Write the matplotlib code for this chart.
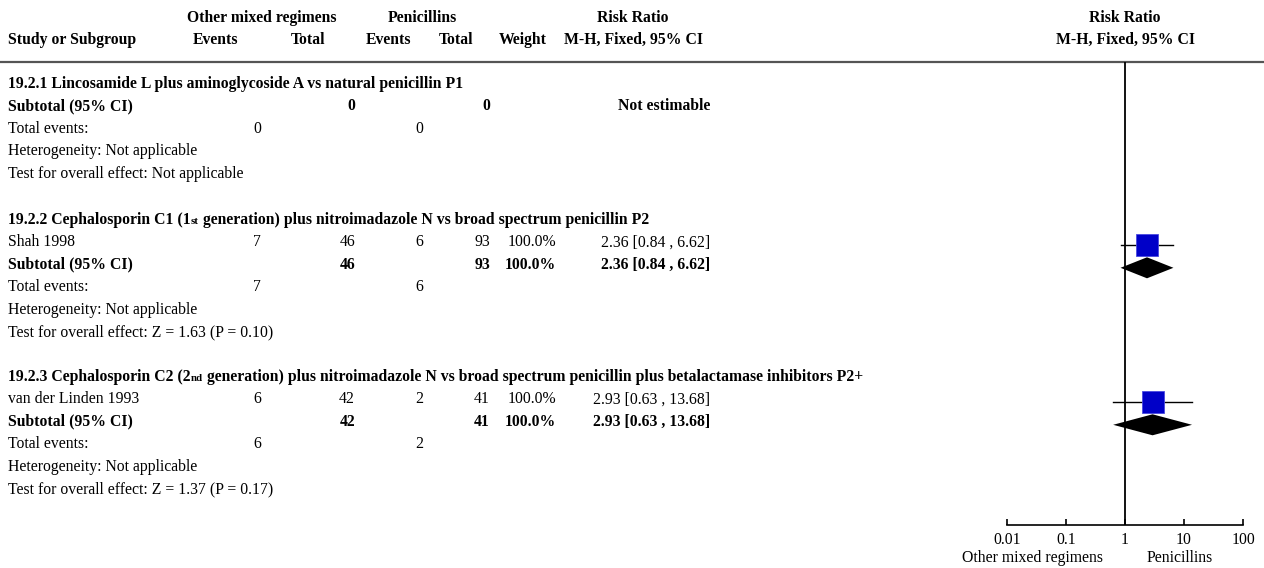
import matplotlib
matplotlib.use('Agg')
import matplotlib.pyplot as plt

plt.rcParams['font.family'] = ['Liberation Serif', 'DejaVu Serif']

# ─────────────────────────────────────────────
# Datos del forest plot
# ─────────────────────────────────────────────
titulo_pre = ["19.2.1 Lincosamide L plus aminoglycoside A vs natural penicillin P1",
              "19.2.2 Cephalosporin C1 (1",
              "19.2.3 Cephalosporin C2 (2"]
titulo_sup = ["", "st", "nd"]
titulo_post = ["",
               "generation) plus nitroimadazole N vs broad spectrum penicillin P2",
               "generation) plus nitroimadazole N vs broad spectrum penicillin plus betalactamase inhibitors P2+"]
estudios = [None, "Shah 1998", "van der Linden 1993"]
ev_otros = [0, 7, 6]
n_otros = [0, 46, 42]
ev_pen = [0, 6, 2]
n_pen = [0, 93, 41]
pesos = [None, 100.0, 100.0]
rr = [None, 2.36, 2.93]
rr_inf = [None, 0.84, 0.63]
rr_sup = [None, 6.62, 13.68]
z_val = [None, 1.63, 1.37]
p_val = [None, 0.10, 0.17]

ticks = [0.01, 0.1, 1, 10, 100]
tick_labels = ["0.01", "0.1", "1", "10", "100"]
lado_izq = "Other mixed regimens"
lado_der = "Penicillins"

# ─────────────────────────────────────────────
# Layout (pixeles)
# ─────────────────────────────────────────────
W, H = 1264, 568
FS = 11.3
x_study, x_ev1, x_n1, x_ev2, x_n2, x_w, x_ci = 8, 257, 355, 419, 490, 556, 710
y_secciones = [83, 219, 376]
paso = 22.4
y_linea, y_eje = 62, 525
x_01, x_100 = 1007, 1243

fig = plt.figure(figsize=(W / 100, H / 100), dpi=100)
ax = fig.add_axes([0, 0, 1, 1])
ax.set_xlim(0, W)
ax.set_ylim(H, 0)
ax.axis('off')

fx = fig.add_axes([x_01 / W, (H - y_eje) / H, (x_100 - x_01) / W, (y_eje - y_linea) / H])
fx.set_xscale('log')
fx.set_xlim(ticks[0], ticks[-1])
fx.set_ylim(y_eje, y_linea)
fx.patch.set_alpha(0)
for s in ['left', 'right', 'top']:
    fx.spines[s].set_visible(False)
fx.spines['bottom'].set_linewidth(1.2)
fx.set_yticks([])
fx.set_xticks(ticks)
fx.set_xticklabels(tick_labels)
fx.minorticks_off()
fx.tick_params(axis='x', direction='in', length=4, width=1.2, pad=5, labelsize=FS)
fx.axvline(1, color='black', lw=1.3)

fig.canvas.draw()
rend = fig.canvas.get_renderer()


def txt(x, y, s, ha='left', bold=False, size=FS):
    # y = centro del texto; se dibuja en la linea base
    return ax.text(x, y + 5, s, ha=ha, va='baseline', fontsize=size,
                   fontweight='bold' if bold else 'normal')


def txt_runs(x, y, partes):
    for s, size, gap in partes:
        if not s:
            continue
        t = txt(x + gap, y, s, bold=True, size=size)
        bb = t.get_window_extent(renderer=rend)
        x = ax.transData.inverted().transform((bb.x1, bb.y0))[0]


# Encabezado
bold = dict(bold=True)
txt(262, 17, "Other mixed regimens", ha='center', **bold)
txt(422, 17, "Penicillins", ha='center', **bold)
txt(633, 17, "Risk Ratio", ha='center', **bold)
txt(1125, 17, "Risk Ratio", ha='center', **bold)
txt(x_study, 39, "Study or Subgroup", **bold)
txt(215, 39, "Events", ha='center', **bold)
txt(308, 39, "Total", ha='center', **bold)
txt(388, 39, "Events", ha='center', **bold)
txt(456, 39, "Total", ha='center', **bold)
txt(523, 39, "Weight", ha='center', **bold)
txt(633, 39, "M-H, Fixed, 95% CI", ha='center', **bold)
txt(1125, 39, "M-H, Fixed, 95% CI", ha='center', **bold)
ax.axhline(y_linea, color='#555555', lw=1.6)

for k, y0 in enumerate(y_secciones):
    txt_runs(x_study, y0, [(titulo_pre[k], FS, 0), (titulo_sup[k], 7.8, 0),
                           (titulo_post[k], FS, 4.0)])
    fila = 1
    if estudios[k] is not None:
        y = y0 + paso * fila
        txt(x_study, y, estudios[k])
        txt(x_ev1, y, str(ev_otros[k]), ha='center')
        txt(x_n1, y, str(n_otros[k]), ha='right')
        txt(x_ev2, y, str(ev_pen[k]), ha='center')
        txt(x_n2, y, str(n_pen[k]), ha='right')
        txt(x_w, y, f"{pesos[k]:.1f}%", ha='right')
        txt(x_ci, y, f"{rr[k]:.2f} [{rr_inf[k]:.2f} , {rr_sup[k]:.2f}]", ha='right')
        ym = y + 4
        fx.plot([rr_inf[k], rr_sup[k]], [ym, ym], color='black', lw=1.0)
        fx.plot([rr[k]], [ym], marker='s', ms=15.5, color='#0000c8',
                mec='#4a4ae0', mew=0.6)
        fila += 1
    # Subtotal
    y = y0 + paso * fila
    txt(x_study, y, "Subtotal (95% CI)", **bold)
    txt(x_n1, y, str(n_otros[k]), ha='right', **bold)
    txt(x_n2, y, str(n_pen[k]), ha='right', **bold)
    if rr[k] is None:
        txt(x_ci, y, "Not estimable", ha='right', **bold)
    else:
        txt(x_w, y, f"{pesos[k]:.1f}%", ha='right', **bold)
        txt(x_ci, y, f"{rr[k]:.2f} [{rr_inf[k]:.2f} , {rr_sup[k]:.2f}]", ha='right', **bold)
        ym = y + 4
        fx.fill([rr_inf[k], rr[k], rr_sup[k], rr[k]], [ym, ym - 10.5, ym, ym + 10.5],
                color='black', lw=0)
    fila += 1
    y = y0 + paso * fila
    txt(x_study, y, "Total events:")
    txt(x_ev1, y, str(ev_otros[k]), ha='center')
    txt(x_ev2, y, str(ev_pen[k]), ha='center')
    fila += 1
    txt(x_study, y0 + paso * fila, "Heterogeneity: Not applicable")
    fila += 1
    if z_val[k] is None:
        efecto = "Not applicable"
    else:
        efecto = f"Z = {z_val[k]:.2f} (P = {p_val[k]:.2f})"
    txt(x_study, y0 + paso * fila, "Test for overall effect: " + efecto)

txt(1032, 557, lado_izq, ha='center')
txt(1180, 557, lado_der, ha='center')

fig.savefig('out.png', dpi=100)
